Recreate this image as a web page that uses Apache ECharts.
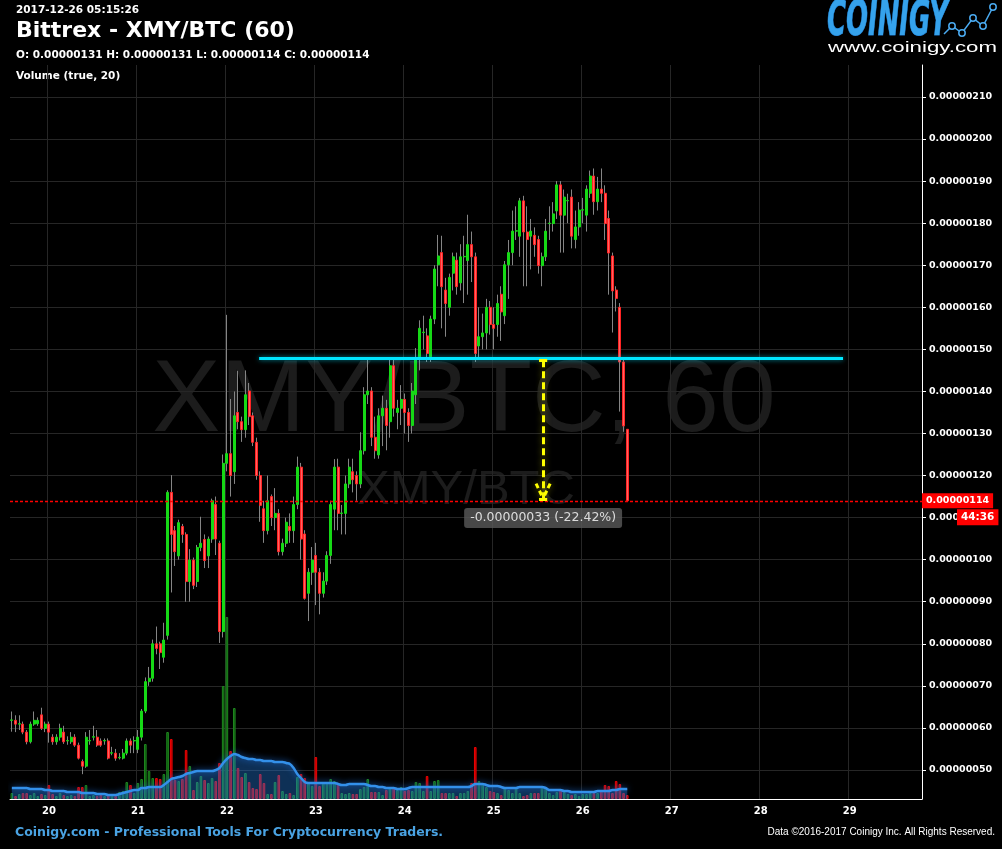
<!DOCTYPE html>
<html><head><meta charset="utf-8">
<script src="https://cdn.jsdelivr.net/npm/echarts@6/dist/echarts.min.js"></script>
<style>html,body{margin:0;padding:0;background:#000;}#c{width:1002px;height:849px;}</style>
</head><body><div id="c"></div>
<script>
// Prices are in satoshi (1e-8 BTC). Hourly candles starting 19 Dec 14:00.
const startDay = 19, startHour = 14, slotCount = 246;

const open = [61.8,61.8,60.9,60.9,59.0,56.7,60.9,61.0,63.1,59.9,
60.9,57.8,56.7,57.8,59.0,56.9,56.7,57.8,55.9,52.0,
50.9,56.9,57.8,57.8,56.9,56.9,56.9,54.0,54.0,52.9,
52.8,54.0,56.9,56.9,54.9,57.8,64.0,71.0,71.8,80.0,
80.0,76.8,82.0,116.0,106.9,100.9,107.9,106.0,94.8,99.9,
94.8,102.9,104.8,100.9,104.9,113.1,103.9,82.9,122.9,125.2,
120.9,135.0,132.8,130.9,140.1,134.2,127.9,120.0,112.1,106.9,
115.0,110.0,111.0,101.9,103.9,107.9,106.9,113.1,122.0,106.1,
92.0,97.0,101.0,97.0,92.0,94.9,101.0,112.0,122.0,111.0,
111.0,118.0,120.9,120.0,118.0,125.9,139.2,140.1,129.1,124.9,
134.2,136.0,132.8,146.1,135.0,136.0,138.1,135.0,131.9,139.2,
148.2,154.0,153.2,148.2,157.2,170.1,173.0,164.1,160.0,168.1,
171.2,165.8,172.0,171.1,174.9,172.0,150.8,153.0,153.9,160.0,
155.9,155.9,163.1,158.0,170.1,173.0,178.1,176.9,185.3,177.9,
176.9,177.1,176.1,169.9,172.0,179.9,179.9,182.9,189.1,181.9,
185.3,186.2,176.1,179.1,183.1,181.9,187.1,191.2,185.1,188.1,
187.1,181.1,172.2,164.1,160.0,147.0,131.0];
const close = [61.9,60.9,61.0,59.0,56.7,60.9,61.8,61.8,59.9,60.9,
59.0,56.7,57.8,59.9,56.7,57.0,57.8,55.9,52.8,50.9,
57.8,57.0,57.9,55.9,55.9,57.0,52.8,54.1,52.8,53.0,
54.0,56.9,55.9,57.0,57.8,64.0,71.0,71.8,80.0,78.9,
77.9,80.9,116.0,106.0,101.9,108.8,106.0,94.8,99.9,93.9,
102.9,103.9,99.8,104.9,114.0,104.9,82.9,122.9,125.2,120.0,
134.2,132.8,130.9,139.2,134.0,127.9,120.0,112.9,106.9,114.0,
110.0,111.0,101.9,103.9,108.9,106.9,113.1,122.0,104.9,90.8,
97.0,99.9,97.0,92.0,94.9,101.0,113.1,122.0,111.0,111.1,
118.0,122.0,119.0,118.0,125.9,139.2,140.1,129.1,125.9,134.2,
136.0,131.9,146.1,136.0,136.0,138.1,135.0,131.9,140.1,147.7,
155.0,154.1,149.0,157.2,169.1,172.2,164.9,160.9,167.1,172.0,
164.9,172.0,172.1,174.9,172.0,149.0,153.0,153.9,160.0,155.9,
155.0,160.9,158.9,170.1,173.0,178.1,178.2,185.3,177.9,176.1,
178.1,174.9,169.9,172.0,178.1,180.0,182.2,189.1,181.9,186.2,
185.4,176.9,179.1,183.1,183.2,188.1,191.2,185.1,188.1,187.1,
179.9,172.9,163.9,162.1,147.0,131.8,114.0];
const high = [63.9,63.0,63.0,61.5,59.5,61.5,63.9,62.5,64.8,61.5,
61.5,58.5,58.5,61.0,60.5,58.0,59.0,58.5,56.5,52.5,
59.0,59.5,60.5,59.5,57.5,57.5,57.5,55.5,55.0,54.0,
55.0,57.5,57.5,58.0,59.5,64.5,72.0,74.5,81.0,84.1,
80.5,85.0,116.5,120.1,108.0,109.5,108.5,106.5,102.5,100.5,
103.5,110.2,106.0,105.5,114.5,115.0,104.5,125.0,158.2,138.2,
140.0,144.9,134.0,145.0,142.0,135.0,129.0,121.0,114.0,120.0,
115.5,117.0,112.0,105.0,110.0,111.0,115.0,124.5,123.0,107.0,
98.0,103.0,104.0,98.0,97.0,102.0,114.0,123.9,124.0,113.0,
120.0,124.0,124.0,121.0,130.3,141.0,148.0,141.0,134.0,136.0,
139.0,138.0,148.0,148.0,138.0,141.5,139.5,136.0,142.0,150.3,
156.9,158.0,155.0,158.0,170.0,177.2,177.0,167.0,168.0,173.0,
173.0,175.0,177.0,182.0,178.0,173.0,160.0,158.5,162.0,161.5,
160.0,163.0,165.0,171.0,176.0,183.0,184.0,186.0,186.5,184.0,
181.0,179.0,177.0,173.0,181.0,184.0,185.0,190.0,190.0,188.0,
187.0,188.0,183.0,185.0,186.0,189.0,192.5,193.0,191.0,193.0,
189.0,183.0,173.0,165.0,161.0,147.5,131.0];
const low = [59.1,59.0,59.5,58.5,56.1,56.3,60.5,60.5,59.5,59.0,
56.5,56.0,56.0,57.0,56.2,56.0,56.2,55.5,52.5,49.0,
50.5,56.0,57.0,55.5,55.5,56.0,52.5,53.5,52.2,52.5,
52.5,53.5,54.0,54.0,54.0,57.0,63.5,70.0,71.0,77.5,
74.0,75.5,81.0,92.2,98.5,100.0,104.0,90.0,90.0,93.0,
93.5,102.0,98.0,98.0,104.0,101.1,80.2,81.5,121.0,115.0,
118.0,131.0,128.0,129.0,132.0,127.0,119.0,109.0,104.0,106.0,
108.0,107.0,101.0,101.0,103.0,104.0,104.0,112.0,100.0,90.5,
85.4,94.0,89.2,87.0,91.0,94.0,99.0,107.0,107.0,106.0,
106.0,117.0,116.0,114.0,117.0,125.0,137.0,127.0,124.0,124.0,
127.0,126.0,129.0,134.0,131.0,132.0,130.0,128.0,130.0,137.0,
145.0,150.0,147.0,147.0,156.0,165.0,155.0,153.0,158.0,164.0,
163.0,164.0,161.0,163.0,166.0,147.0,148.0,150.0,150.0,153.5,
150.0,153.0,152.0,156.0,162.0,170.0,176.0,172.0,165.0,165.0,
169.0,172.0,168.0,165.0,171.0,176.0,178.0,181.0,173.0,173.0,
180.0,174.0,174.0,177.0,180.0,178.0,186.0,182.0,183.0,185.0,
176.0,163.0,154.0,159.0,135.2,130.4,114.0];
// volume (relative units) and its 20-period moving average
const volume = [6,3,5,6,6,4,6,3,5,4,
14,5,3,6,4,3,4,3,12,12,
14,3,4,3,4,3,5,4,3,7,
8,17,14,6,16,20,55,28,21,21,
20,25,67,60,19,18,20,49,33,9,
17,23,19,16,21,18,36,113,182,48,
91,31,22,26,17,11,10,25,16,5,
5,17,24,8,5,6,4,22,25,21,
17,13,42,13,16,16,20,18,16,6,
5,6,5,5,10,12,20,7,7,7,
4,9,12,11,9,12,8,9,8,17,
16,8,23,8,18,19,6,6,6,6,
3,6,6,8,16,52,18,15,12,8,
7,6,4,11,9,6,11,6,3,4,
6,6,6,13,11,6,4,7,9,7,
5,4,5,3,5,5,6,6,6,9,
14,13,6,18,15,6,4];
const volumeMA = [11,11,11,11,11,10,10,10,10,9,
9,8,8,8,8,7,7,7,7,6,
6,6,6,5,5,5,4,4,4,5,
6,7,8,9,9,11,11,12,12,12,
12,14,17,20,21,22,23,25,26,27,
28,28,28,28,28,29,31,36,40,43,
45,44,42,41,40,40,39,39,38,38,
38,37,37,37,36,35,31,25,21,17,
16,16,16,16,16,16,16,16,15,14,
14,15,15,15,15,15,14,13,13,12,
12,11,11,11,10,10,10,11,12,12,
12,12,12,12,12,12,12,12,12,12,
12,12,12,12,13,15,15,15,14,13,
13,13,12,11,11,11,11,12,12,12,
12,12,12,12,11,9,9,9,9,8,
8,7,7,7,7,7,7,7,8,8,
8,8,9,9,10,10,10];

const lastPrice = 114;
const countdownLevel = 110.1;
const countdownText = '44:36';
// horizontal level line and measurement (x in hourly slots)
const levelValue = 147.8, levelStart = 66.7, levelEnd = 224.2;
const measureSlot = 143.3, measureTop = 147.4, measureEnd = 114.3, measureLabelValue = 109.9;
const measureText = '-0.00000033 (-22.42%)';
const arrowHead = [[141.4, 118.1], [142.9, 115.3], [145.2, 118.1], [143.7, 115.3]];

const categories = [];
for (let i = 0; i < slotCount; i++) {
  const h = startHour + i;
  categories.push((startDay + Math.floor(h / 24)) + '|' + (h % 24));
}
const isMidnight = (idx, val) => String(val).split('|')[1] === '0';
const fmtPrice = v => (v / 1e8).toFixed(8);

const wickData = open.map((o, i) => [o, close[i], low[i], high[i]]);
const bodyData = open.map((o, i) => [o, close[i], Math.min(o, close[i]), Math.max(o, close[i])]);
const volData = volume.map((v, i) => ({
  value: v,
  itemStyle: close[i] >= open[i]
    ? { color: '#0b560b', borderColor: '#1f861f', borderWidth: 1 }
    : { color: '#a80000', borderColor: '#ee0000', borderWidth: 1 }
}));

function fitScale(text, font, w) {
  const ctx = document.createElement('canvas').getContext('2d');
  ctx.font = font;
  return w / ctx.measureText(text).width;
}
const logoFont = 'italic bold 49px "DejaVu Sans"';
const urlFont = '15px "Liberation Sans"';

const chart = echarts.init(document.getElementById('c'), null, { renderer: 'canvas' });
const txt = '#ffffff';
const gridColor = '#262626';
const hidden = { show: false, axisLine: { show: false, onZero: false }, axisTick: { show: false }, axisLabel: { show: false }, splitLine: { show: false } };
const yellowGlow = { shadowBlur: 6, shadowColor: 'rgba(190,190,0,0.55)' };

chart.setOption({
  backgroundColor: '#000',
  animation: false,
  grid: { left: 10, right: 80, top: 65, bottom: 50, show: false },
  xAxis: [{
    type: 'category', data: categories, boundaryGap: true,
    axisLine: { onZero: false, lineStyle: { color: '#fff', width: 1 } },
    axisTick: { interval: isMidnight, alignWithLabel: true, length: 4, lineStyle: { color: '#fff' } },
    axisLabel: { interval: isMidnight, formatter: v => String(v).split('|')[0], color: txt,
      fontWeight: 'bold', fontSize: 10, fontFamily: 'DejaVu Sans', margin: 7 },
    splitLine: { show: true, interval: isMidnight, lineStyle: { color: gridColor } }
  }, Object.assign({ type: 'value', min: -0.5, max: slotCount - 0.5 }, hidden)],
  yAxis: [{
    type: 'value', position: 'right', min: 43.1, max: 217.6, splitNumber: 17, scale: true,
    axisLine: { show: true, onZero: false, lineStyle: { color: '#fff' } },
    axisTick: { show: true, length: 4, lineStyle: { color: '#fff' } },
    axisLabel: { color: txt, fontWeight: 'bold', fontSize: 9.5, fontFamily: 'DejaVu Sans', margin: 7,
      formatter: fmtPrice, showMinLabel: false, showMaxLabel: false },
    splitLine: { show: true, showMinLine: false, showMaxLine: false, lineStyle: { color: gridColor } }
  }, Object.assign({ type: 'value', min: 0, max: 734, position: 'right' }, hidden)],
  graphic: { elements: [
    { type: 'text', z: -10, x: 464, y: 403, silent: true,
      style: { text: 'XMY/BTC, 60', font: '102px "Liberation Sans"', fill: '#1c1c1c', align: 'center', verticalAlign: 'middle' } },
    { type: 'text', z: -10, x: 466, y: 490, silent: true,
      style: { text: 'XMY/BTC', font: '49px "Liberation Sans"', fill: '#1c1c1c', align: 'center', verticalAlign: 'middle' } },
    { type: 'text', x: 16, y: 5, style: { text: '2017-12-26 05:15:26', font: 'bold 10.5px "DejaVu Sans"', fill: '#fff' } },
    { type: 'text', x: 16, y: 20, style: { text: 'Bittrex - XMY/BTC (60)', font: 'bold 22px "DejaVu Sans"', fill: '#fff' } },
    { type: 'text', x: 16, y: 50, style: { text: 'O: 0.00000131 H: 0.00000131 L: 0.00000114 C: 0.00000114', font: 'bold 10.5px "DejaVu Sans"', fill: '#fff' } },
    { type: 'text', x: 16, y: 71, style: { text: 'Volume (true, 20)', font: 'bold 10.5px "DejaVu Sans"', fill: '#fff' } },
    { type: 'text', x: 15, y: 826, style: { text: 'Coinigy.com - Professional Tools For Cryptocurrency Traders.', font: 'bold 12.5px "DejaVu Sans"', fill: '#4aa3e3' } },
    { type: 'text', x: 995, y: 827, style: { text: 'Data \u00a92016-2017 Coinigy Inc. All Rights Reserved.', font: '10px "Liberation Sans"', fill: '#fff', align: 'right' } },
    { type: 'text', x: 827, y: -2, scaleX: fitScale('COINIGY', logoFont, 121),
      style: { text: 'COINIGY', font: logoFont, fill: '#35a2ec', stroke: '#1c78cf', lineWidth: 1 } },
    { type: 'text', x: 828, y: 40, scaleX: fitScale('www.coinigy.com', urlFont, 169),
      style: { text: 'www.coinigy.com', font: urlFont, fill: '#fff' } },
    { type: 'polyline', shape: { points: [[944, 34], [952, 26], [962, 33], [973, 18], [983, 26], [993, 7]] },
      style: { stroke: '#4aaaf0', lineWidth: 1.5, fill: null } },
    { type: 'circle', shape: { cx: 952, cy: 26, r: 3.2 }, style: { stroke: '#4aaaf0', lineWidth: 1.5, fill: '#000' } },
    { type: 'circle', shape: { cx: 962, cy: 33, r: 3.2 }, style: { stroke: '#4aaaf0', lineWidth: 1.5, fill: '#000' } },
    { type: 'circle', shape: { cx: 973, cy: 18, r: 3.2 }, style: { stroke: '#4aaaf0', lineWidth: 1.5, fill: '#000' } },
    { type: 'circle', shape: { cx: 983, cy: 26, r: 3.2 }, style: { stroke: '#4aaaf0', lineWidth: 1.5, fill: '#000' } },
    { type: 'circle', shape: { cx: 993, cy: 7, r: 3.2 }, style: { stroke: '#4aaaf0', lineWidth: 1.5, fill: '#000' } }
  ] },
  series: [
    { name: 'Volume', type: 'bar', xAxisIndex: 0, yAxisIndex: 1, data: volData, barWidth: 2.6, z: 1, silent: true },
    { name: 'Volume MA', type: 'line', xAxisIndex: 0, yAxisIndex: 1, data: volumeMA, smooth: 0.4, symbol: 'none', z: 2, silent: true,
      lineStyle: { color: '#3390ea', width: 2.5, shadowBlur: 6, shadowColor: '#1b5fb8' },
      areaStyle: { color: 'rgba(36,125,225,0.55)' } },
    { name: 'Wick', type: 'candlestick', xAxisIndex: 0, yAxisIndex: 0, data: wickData, barWidth: 0.01, z: 3, silent: true,
      itemStyle: { color: '#858585', color0: '#858585', borderColor: '#858585', borderColor0: '#858585', borderWidth: 1 } },
    { name: 'XMY/BTC', type: 'candlestick', xAxisIndex: 0, yAxisIndex: 0, data: bodyData, barWidth: 2.5, z: 4, silent: true,
      itemStyle: { color: '#16d916', color0: '#ff6262', borderColor: '#16d916', borderColor0: '#ff2424', borderWidth: 1 },
      markLine: { silent: true, symbol: ['none', 'none'], animation: false,
        data: [
          { yAxis: lastPrice, lineStyle: { color: '#ff0000', type: [3, 2], width: 1.3 },
            label: { show: true, position: 'end', distance: 0, formatter: fmtPrice(lastPrice), color: '#fff',
              backgroundColor: '#ff0000', padding: [3, 4, 2, 4], fontWeight: 'bold', fontSize: 9.5, fontFamily: 'DejaVu Sans' } },
          { yAxis: countdownLevel, lineStyle: { width: 0, color: 'rgba(0,0,0,0)' },
            label: { show: true, position: 'end', distance: 0, formatter: '{sp|}{b|' + countdownText + '}',
              rich: { sp: { width: 35 }, b: { color: '#fff', backgroundColor: '#ff0000', padding: [3, 4, 2, 4], fontWeight: 'bold', fontSize: 10.5, fontFamily: 'DejaVu Sans' } } } }
        ] } },
    { name: 'Measure', type: 'scatter', xAxisIndex: 1, yAxisIndex: 0, z: 6, silent: true,
      data: [[measureSlot, measureLabelValue]], symbolSize: 1, itemStyle: { color: 'rgba(0,0,0,0)' },
      label: { show: true, position: 'inside', formatter: measureText, color: '#fff', fontSize: 12.5, fontFamily: 'DejaVu Sans',
        backgroundColor: '#5a5a5a', borderRadius: 3, padding: [4, 6, 3, 6] },
      markLine: { silent: true, symbol: ['none', 'none'], animation: false, label: { show: false },
        data: [
          [{ coord: [levelStart, levelValue], lineStyle: { color: '#00e6ff', width: 3, type: 'solid', shadowBlur: 5, shadowColor: 'rgba(0,230,255,0.6)' } }, { coord: [levelEnd, levelValue] }],
          [{ coord: [measureSlot, measureTop], lineStyle: Object.assign({ color: '#ffff00', width: 3, type: [7, 4] }, yellowGlow) }, { coord: [measureSlot, measureEnd] }],
          [{ coord: arrowHead[0], lineStyle: Object.assign({ color: '#ffff00', width: 3, type: [5, 3] }, yellowGlow) }, { coord: arrowHead[1] }],
          [{ coord: arrowHead[2], lineStyle: Object.assign({ color: '#ffff00', width: 3, type: [5, 3] }, yellowGlow) }, { coord: arrowHead[3] }],
          [{ coord: [measureSlot - 1.1, measureTop], lineStyle: { color: '#ffff00', width: 3, type: 'solid' } }, { coord: [measureSlot + 1.1, measureTop] }],
          [{ coord: [measureSlot - 1.1, measureEnd], lineStyle: { color: '#ffff00', width: 3, type: 'solid' } }, { coord: [measureSlot + 1.1, measureEnd] }]
        ] } }
  ]
});
</script>
</body></html>
